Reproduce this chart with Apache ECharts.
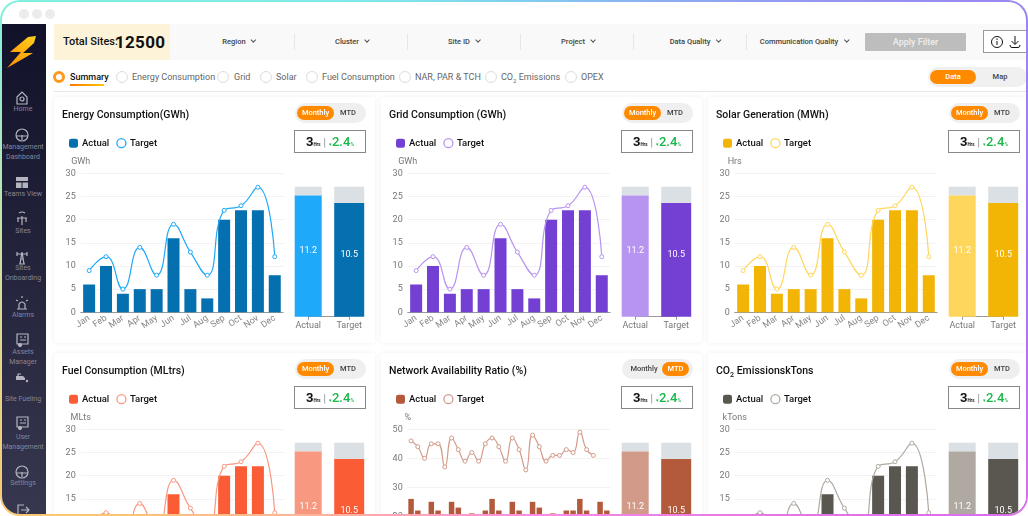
<!DOCTYPE html>
<html>
<head>
<meta charset="utf-8">
<title>Energy dashboard</title>
<script src="https://cdn.jsdelivr.net/npm/echarts@6/dist/echarts.min.js"></script>
<style>
html, body { margin: 0; padding: 0; width: 1028px; height: 516px; overflow: hidden; background: #fff; font-family: Roboto, sans-serif; }
.abs, .abs * { box-sizing: border-box; }
.abs { position: absolute; }
#frame { left: 0; top: 0; width: 1028px; height: 516px; border-radius: 20px; background: conic-gradient(#7fd0f0 0deg, #9a88f2 63deg, #a870f0 90deg, #d870e8 117deg, #ff90e0 180deg, #fdb0a0 215deg, #fcc870 243deg, #d0e0a0 270deg, #7ff0e0 297deg, #80e8e8 330deg, #7fd0f0 360deg); }
#inner { left: 2px; top: 2px; width: 1024px; height: 512px; border-radius: 18px; background: #fff; overflow: hidden; }
#page { left: -2px; top: -2px; width: 1028px; height: 516px; }
.dot { width: 10px; height: 10px; border-radius: 50%; background: #ececec; top: 9px; }
#side { left: 0; top: 24px; width: 46px; height: 492px; background: linear-gradient(#11122a, #37384f); }
.navt { left: 0; width: 46px; text-align: center; color: #85859a; font-size: 7px; line-height: 10px; white-space: nowrap; }
.navi { left: 14px; width: 16px; height: 16px; fill: none; stroke: #b4b4c0; stroke-width: 1.2; }
#bar { left: 54px; top: 24px; width: 974px; height: 36px; background: #f9f9f9; }
#total { left: 54px; top: 24px; width: 116px; height: 36px; background: #fdf3d8; }
.filter { top: 37px; font-size: 7.5px; font-weight: 500; color: #444; white-space: nowrap; transform: translateX(-50%); line-height: 10px; }
.filter i { display: inline-block; width: 4px; height: 4px; border-right: 1px solid #555; border-bottom: 1px solid #555; transform: rotate(45deg); margin: 0 0 2px 6px; }
.vline { top: 34px; width: 1px; height: 16px; background: #e6e6e6; }
.tab { top: 71px; font-size: 9px; color: #666; line-height: 12px; white-space: nowrap; }
.tab sub { font-size: 6px; line-height: 0; }
.radio { top: 71px; width: 12px; height: 12px; border-radius: 50%; border: 1px solid #ddd; background: #fff; }
.card { width: 321px; height: 246px; background: #fff; border-radius: 4px; box-shadow: 0 0 5px rgba(0,0,0,.07); }
.ctitle { left: 8px; top: 11px; font-size: 10.5px; font-weight: 500; color: #111; line-height: 13px; white-space: nowrap; }
.ctitle sub { font-size: 7px; line-height: 0; }
.tog { left: 241px; top: 6px; width: 71px; height: 20px; border-radius: 10px; background: #efefef; }
.tog span { position: absolute; top: 3px; height: 14px; line-height: 14px; border-radius: 7px; font-size: 7.5px; font-weight: 500; color: #444; text-align: center; }
.tog span.on { background: #ff8a00; color: #fff; }
.kpi { left: 240px; top: 33px; width: 72px; height: 23px; border: 1px solid #888; display: flex; align-items: baseline; justify-content: center; padding-top: 3px; color: #111; white-space: nowrap; }
.kpi b { font-size: 13px; line-height: 16px; font-weight: 700; }
.kpi small { font-size: 4.5px; font-weight: 700; }
.kpi u { text-decoration: none; color: #888; font-size: 10px; margin: 0 3px 0 3px; }
.kpi em { font-style: normal; color: #18b84a; font-size: 13px; font-weight: 500; line-height: 16px; }
.kpi em.s { font-size: 5px; }
.chart { left: 0; top: 0; width: 321px; height: 246px; }
</style>
</head>
<body>
<div id="frame" class="abs"><div id="inner" class="abs"><div id="page" class="abs"></div></div></div>
<script>
// chart values
var months = ['Jan', 'Feb', 'Mar', 'Apr', 'May', 'Jun', 'Jul', 'Aug', 'Sep', 'Oct', 'Nov', 'Dec'];
var monthActual = [6, 10, 4, 5, 5, 16, 5, 3, 20, 22, 22, 8];
var monthTarget = [9, 12, 5, 14, 8, 19, 13, 8, 22, 23, 27, 12];
var days = ['1', '2', '3', '4', '5', '6', '7', '8', '9', '10', '11', '12', '13', '14', '15', '16', '17', '18', '19', '20', '21', '22', '23', '24', '25', '26', '27', '28', '29', '30'];
var dayActual = [26, 22, 17, 25, 22, 17, 25, 23, 17, 21, 17, 22, 26, 22, 17, 25, 22, 17, 25, 23, 17, 21, 17, 22, 22, 26, 22, 17, 25, 22];
var dayTarget = [46, 44, 40, 45, 45, 37, 47, 43, 39, 42, 39, 45, 47, 44, 39, 47, 43, 36, 48, 44, 39, 41, 41, 43, 42, 49, 43, 41, null, null];
var sideLabels = ['Actual', 'Target'];
var sideValues = [11.2, 10.5];
var sideMax = 12;
var monthTicks = [0, 5, 10, 15, 20, 25, 30];
var dayTicks = [0, 10, 20, 30, 40, 50];

var cards = [
	{ title: 'Energy Consumption(GWh)', unit: 'GWh', x: 54, y: 97, dark: '#0570b0', light: '#1fa9fa' },
	{ title: 'Grid Consumption (GWh)', unit: 'GWh', x: 381, y: 97, dark: '#7440d4', light: '#b794f0' },
	{ title: 'Solar Generation (MWh)', unit: 'Hrs', x: 708, y: 97, dark: '#f2b505', light: '#ffd65c' },
	{ title: 'Fuel Consumption (MLtrs)', unit: 'MLts', x: 54, y: 353, dark: '#fa5c36', light: '#f89880' },
	{ title: 'Network Availability Ratio (%)', unit: '%', x: 381, y: 353, dark: '#b35a3c', light: '#d29a88', daily: true },
	{ title: 'CO<sub>2</sub> EmissionskTons', unit: 'kTons', x: 708, y: 353, dark: '#5a5650', light: '#b0a9a1' }
];

var page = document.getElementById('page');

function add(cls, style, html, parent) {
	var d = document.createElement('div');
	d.className = 'abs ' + cls;
	d.style.cssText = style;
	if (html) d.innerHTML = html;
	(parent || page).appendChild(d);
	return d;
}

// window dots
[19, 32, 45].forEach(function (x) { add('dot', 'left:' + x + 'px'); });

// side menu
add('', 'left:0;top:24px;width:46px;height:492px;background:linear-gradient(#11122a,#37384f)');
page.insertAdjacentHTML('beforeend', '<svg class="abs" style="left:6px;top:34px" width="32" height="36" viewBox="0 0 32 36"><defs><linearGradient id="bolt" x1="0" y1="1" x2="1" y2="0"><stop offset="0" stop-color="#ff8a00"/><stop offset="1" stop-color="#ffd21f"/></linearGradient></defs><polygon points="30,2 22,3 4,18 15,18 1,34 27,19 17,19 28,9" fill="url(#bolt)"/></svg>');

var iconShapes = {
	home: '<path d="M3 7 L8 2 L13 7 V14 H3 Z"/><circle cx="8" cy="9" r="2"/>',
	gauge: '<circle cx="8" cy="8" r="6"/><path d="M2 9 H14 M8 8 V13"/>',
	teams: '<path d="M2 3 H14 V7 H2 Z M2 8.5 H7.5 V14 H2 Z M8.5 8.5 H14 V14 H8.5 Z" fill="#b4b4c0" stroke="none"/>',
	site: '<path d="M8 6 V15 M3 8 H13 M4 8 V12 M12 8 V12 M5 3 Q8 1 11 3"/>',
	tower: '<path d="M6 15 L8 3 L10 15 M3 5 H13 M3 3 V7 M13 3 V7 M5 15 H11 M6.5 10 H9.5"/>',
	alarm: '<path d="M3 14 H13 M5 14 V9 Q8 5 11 9 V14 M8 1 V3 M2 5 L4 6 M14 5 L12 6"/>',
	asset: '<path d="M3 2 H14 V12 H3 Z M6 5 H8 M10 5 H12 M6 8 H12"/><circle cx="6" cy="13" r="1.5" fill="#b4b4c0"/>',
	fuel: '<path d="M2 7 H9 L11 9 V11 H2 Z" fill="#b4b4c0" stroke="none"/><circle cx="13" cy="12" r="1.2" fill="#b4b4c0" stroke="none"/><path d="M4 7 L4 5 H7"/>',
	logout: '<path d="M10 3 H4 V14 H10 M7 8 H15 M12 5 L15 8 L12 11"/>'
};
var navItems = [
	{ icon: 'home', iy: 90, lines: ['Home'], ty: 104 },
	{ icon: 'gauge', iy: 127, lines: ['Management', 'Dashboard'], ty: 142 },
	{ icon: 'teams', iy: 174, lines: ['Teams View'], ty: 189 },
	{ icon: 'site', iy: 210, lines: ['Sites'], ty: 226 },
	{ icon: 'tower', iy: 249, lines: ['Sites', 'Onboarding'], ty: 263 },
	{ icon: 'alarm', iy: 295, lines: ['Alarms'], ty: 310 },
	{ icon: 'asset', iy: 332, lines: ['Assets', 'Manager'], ty: 347 },
	{ icon: 'fuel', iy: 369, lines: ['Site Fueling'], ty: 394 },
	{ icon: 'asset', iy: 415, lines: ['User', 'Management'], ty: 432 },
	{ icon: 'gauge', iy: 464, lines: ['Settings'], ty: 478 },
	{ icon: 'logout', iy: 502, lines: [], ty: 0 }
];
navItems.forEach(function (n) {
	page.insertAdjacentHTML('beforeend', '<svg class="abs navi" style="top:' + n.iy + 'px" viewBox="0 0 16 16">' + iconShapes[n.icon] + '</svg>');
	if (n.lines.length) add('navt', 'top:' + n.ty + 'px', n.lines.join('<br>'));
});

// filter bar
add('', 'left:54px;top:24px;width:974px;height:36px;background:#f9f9f9');
add('', 'left:54px;top:24px;width:116px;height:36px;background:#fdf3d8');
add('', 'left:63px;top:35px;font-size:11px;font-weight:500;color:#111;line-height:14px;white-space:nowrap', 'Total Sites:');
add('', 'left:115px;top:31px;font-size:17px;font-weight:700;color:#111;line-height:22px;letter-spacing:.3px', '12500');
[['Region', 239], ['Cluster', 352], ['Site ID', 464], ['Project', 578], ['Data Quality', 695], ['Communication Quality', 804]].forEach(function (f) {
	add('filter', 'left:' + f[1] + 'px', f[0] + '<i></i>');
});
[294, 407, 520, 633, 746].forEach(function (x) { add('vline', 'left:' + x + 'px'); });
add('', 'left:865px;top:33px;width:101px;height:18px;background:#bdbdbd;border-radius:1px;color:#eee;font-size:9px;font-weight:500;text-align:center;line-height:18px', 'Apply Filter');
add('', 'left:983px;top:30px;width:45px;height:23px;border:1px solid #999;background:#fff');
page.insertAdjacentHTML('beforeend', '<svg class="abs" style="left:990px;top:35px" width="34" height="14" viewBox="0 0 34 14" fill="none" stroke="#111" stroke-width="1"><circle cx="7" cy="7" r="5.5"/><path d="M7 6 V10 M7 3.5 V5"/><path d="M25 1 V9 M21.5 6 L25 9.5 L28.5 6 M20 10 Q20 12.5 22 12.5 H28 Q30 12.5 30 10"/></svg>');

// tabs
add('', 'left:54px;top:91px;width:974px;height:1px;background:#e6e6e6');
add('radio', 'left:53px;border:3px solid #ff9a1f;background:#fff');
add('tab', 'left:70px;color:#111;font-weight:500', 'Summary');
add('', 'left:70px;top:84px;width:34px;height:2px;background:linear-gradient(90deg,#ff7a00,#ffc400)');
[[116, 132, 'Energy Consumption'], [217, 234, 'Grid'], [260, 276, 'Solar'], [306, 322, 'Fuel Consumption'], [399, 415, 'NAR, PAR &amp; TCH'], [485, 501, 'CO<sub>2</sub> Emissions'], [565, 581, 'OPEX']].forEach(function (t) {
	add('radio', 'left:' + t[0] + 'px');
	add('tab', 'left:' + t[1] + 'px', t[2]);
});
add('', 'left:928px;top:67px;width:99px;height:20px;border-radius:10px;background:#f0f0f0');
add('', 'left:930px;top:70px;width:46px;height:14px;border-radius:7px;background:#ff8a00;color:#fff;font-size:7.5px;font-weight:500;text-align:center;line-height:14px', 'Data');
add('', 'left:985px;top:70px;width:30px;color:#444;font-size:7.5px;font-weight:500;text-align:center;line-height:14px', 'Map');

function buildOption(c) {
	var cats = c.daily ? days : months;
	var actual = c.daily ? dayActual : monthActual;
	var target = c.daily ? dayTarget : monthTarget;
	var ticks = c.daily ? dayTicks : monthTicks;
	var axisText = { color: '#777', fontSize: 9, fontFamily: 'Roboto' };
	var sideAxis = function (show) {
		return {
			type: 'category', gridIndex: 1, data: sideLabels, boundaryGap: false, show: show, position: 'bottom',
			axisLine: { lineStyle: { color: '#999' } }, axisTick: { lineStyle: { color: '#999' }, length: 3 },
			axisLabel: { color: '#777', fontSize: 9, fontFamily: 'Roboto', margin: 5 }
		};
	};
	return {
		animation: false,
		legend: {
			left: 10, top: 36, itemWidth: 9, itemHeight: 9, itemGap: 7,
			textStyle: { color: '#111', fontSize: 9.5, fontWeight: 500, fontFamily: 'Roboto', padding: [0, 0, 0, -1] },
			data: [
				{ name: 'Actual', icon: 'roundRect' },
				{ name: 'Target', icon: 'circle', itemStyle: { color: '#fff', borderColor: c.light, borderWidth: 1.3 } }
			]
		},
		grid: [
			{ left: 26.7, top: 76.3, width: 202.5, height: c.daily ? 145 : 139 },
			{ left: 254.2, top: 89.7, width: 41, height: 130 }
		],
		xAxis: [
			{
				type: 'category', gridIndex: 0, data: cats,
				axisLine: { lineStyle: { color: '#999' } }, axisTick: { lineStyle: { color: '#999' }, length: 4 },
				axisLabel: { color: '#888', fontSize: 9, fontFamily: 'Roboto', rotate: 35, margin: 5, interval: 0 }
			},
			sideAxis(true),
			sideAxis(false)
		],
		yAxis: [
			{
				type: 'value', gridIndex: 0, min: ticks[0], max: ticks[ticks.length - 1], interval: ticks[1] - ticks[0],
				name: c.unit, nameGap: 7, nameTextStyle: axisText,
				axisLine: { show: false }, axisTick: { show: false }, axisLabel: { color: '#777', fontSize: 9, fontFamily: 'Roboto', margin: 5 },
				splitLine: { lineStyle: { color: '#f2f2f2' } }
			},
			{ type: 'value', gridIndex: 1, min: 0, max: sideMax, show: false }
		],
		series: [
			{ name: 'Actual', type: 'bar', xAxisIndex: 0, yAxisIndex: 0, data: actual, barWidth: c.daily ? 5.5 : 12, itemStyle: { color: c.dark } },
			{
				name: 'Target', type: 'line', xAxisIndex: 0, yAxisIndex: 0, data: target, smooth: true, symbol: 'circle', symbolSize: 4,
				lineStyle: { color: c.light, width: 1.2 }, itemStyle: { color: '#fff', borderColor: c.light, borderWidth: 1 }
			},
			{
				name: 'sideActual', type: 'bar', xAxisIndex: 1, yAxisIndex: 1, stack: 'a', barWidth: 27, clip: false, data: [sideValues[0], null],
				itemStyle: { color: c.light }, label: { show: true, position: 'inside', offset: [0, -5.5], color: '#fff', fontSize: 9, fontFamily: 'Roboto' }
			},
			{ name: 'sideActualRest', type: 'bar', xAxisIndex: 1, yAxisIndex: 1, stack: 'a', barWidth: 27, clip: false, data: [sideMax - sideValues[0], null], itemStyle: { color: '#dbe0e4' } },
			{
				name: 'sideTarget', type: 'bar', xAxisIndex: 2, yAxisIndex: 1, stack: 'b', barWidth: 30, clip: false, data: [null, sideValues[1]],
				itemStyle: { color: c.dark }, label: { show: true, position: 'inside', offset: [0, -5.5], color: '#fff', fontSize: 9, fontFamily: 'Roboto' }
			},
			{ name: 'sideTargetRest', type: 'bar', xAxisIndex: 2, yAxisIndex: 1, stack: 'b', barWidth: 30, clip: false, data: [null, sideMax - sideValues[1]], itemStyle: { color: '#dbe0e4' } }
		]
	};
}

cards.forEach(function (c) {
	var card = add('card', 'left:' + c.x + 'px;top:' + c.y + 'px');
	var box = add('chart', '', '', card);
	add('ctitle', '', c.title, card);
	if (c.daily) {
		add('tog', '', '<span style="left:4px;width:36px">Monthly</span><span class="on" style="left:40px;width:27px">MTD</span>', card);
	} else {
		add('tog', '', '<span class="on" style="left:2px;width:37px">Monthly</span><span style="left:39px;width:28px">MTD</span>', card);
	}
	add('kpi', '', '<b>3</b><small>Hrs</small><u>|</u><em class="s">&#9662;</em><em>2.4</em><em class="s">%</em>', card);
	var chart = echarts.init(box);
	chart.setOption(buildOption(c));
});
</script>
</body>
</html>
